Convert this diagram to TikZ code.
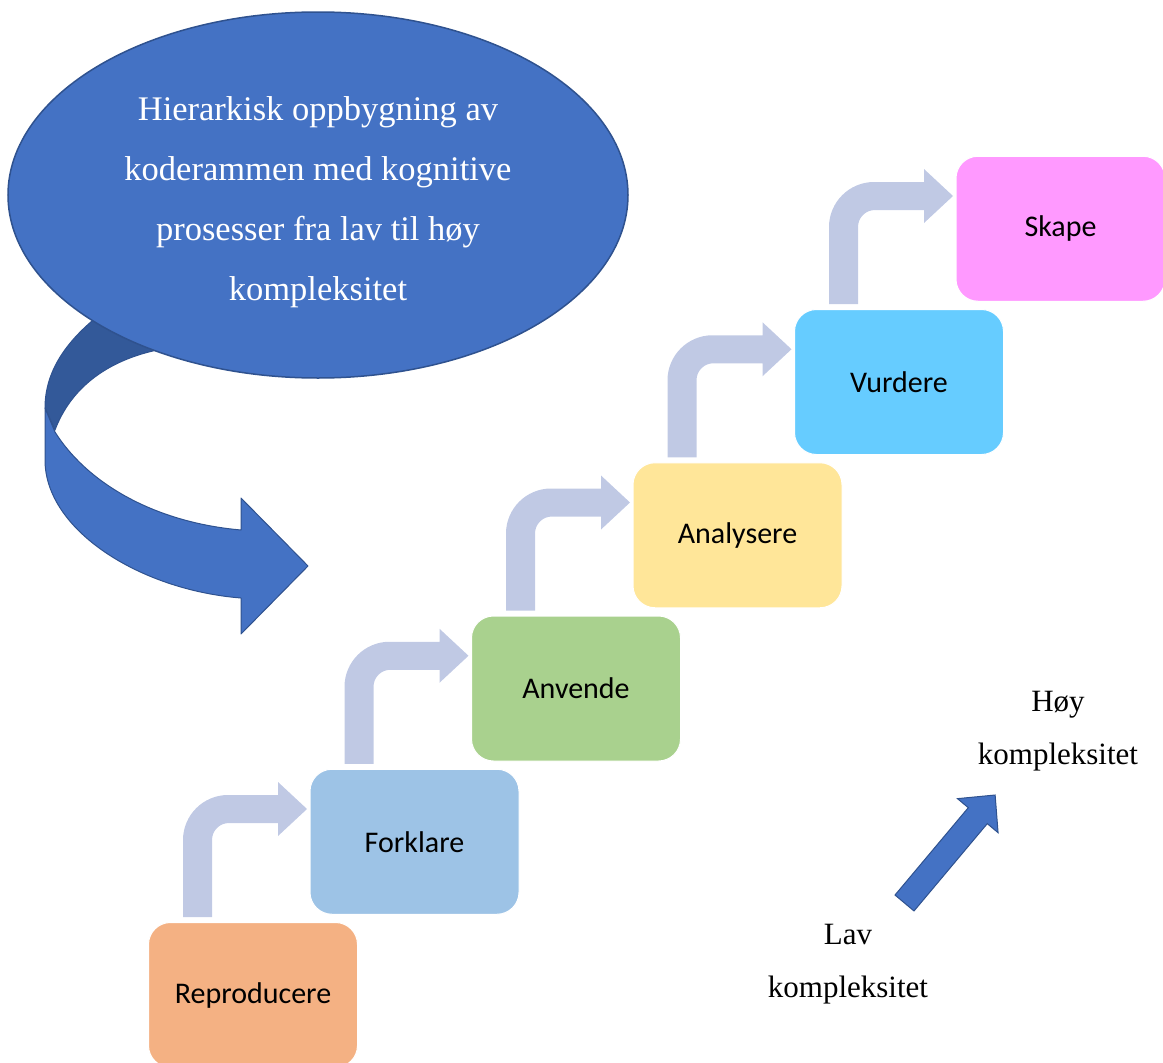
\documentclass[tikz,border=0pt]{standalone}
\usepackage{fontspec}
\setmainfont{Liberation Serif}
\newfontfamily\boxfont{Carlito}
\usetikzlibrary{shapes.geometric,calc}

\definecolor{accent}{RGB}{68,114,196}
\definecolor{accentdark}{RGB}{47,82,143}
\definecolor{ribbonback}{RGB}{51,89,153}
\definecolor{steparrow}{RGB}{192,201,228}
\definecolor{cRep}{RGB}{244,177,131}
\definecolor{cFor}{RGB}{157,195,230}
\definecolor{cAnv}{RGB}{169,209,142}
\definecolor{cAna}{RGB}{255,230,153}
\definecolor{cVur}{RGB}{102,204,255}
\definecolor{cSka}{RGB}{255,153,255}

\tikzset{
  levelbox/.style={rectangle, rounded corners=22pt, minimum width=209pt,
    minimum height=145pt, anchor=north west, draw=white, line width=1pt,
    font=\boxfont\fontsize{30}{36}\selectfont, text=black},
  serifnote/.style={align=center, font=\fontsize{31}{53}\selectfont, text=black},
  stepflow/.style={fill=steparrow}
}

% bent arrow rising out of one level and pointing at the next
\newcommand\bentstep[1]{%
  \begin{scope}[shift={($(#1.north west)+(35,-5)$)}]
    \fill[stepflow] (0,0) -- (0,-77) .. controls (0,-101.8) and (20.2,-122) .. (45,-122)
      -- (95,-122) -- (95,-135) -- (124,-108) -- (95,-81) -- (95,-94) -- (46,-94)
      .. controls (36.6,-94) and (29,-86.4) .. (29,-77) -- (29,0) -- cycle;
  \end{scope}}

\begin{document}
\begin{tikzpicture}[x=1pt,y=-1pt]
\useasboundingbox (0,0) rectangle (1163,1063);

% curled ribbon arrow below the callout: back face
\fill[ribbonback, draw=accentdark, line width=1pt, line join=round]
  (98,316) .. controls (62,345) and (45,375) .. (45,408)
  -- (55,430) .. controls (70,390) and (105,360) .. (162,349) -- cycle;
% front face with arrow head
\fill[accent, draw=accentdark, line width=1pt, line join=round]
  (45,408) -- (45,460) .. controls (45,530) and (140,590) .. (241,598)
  -- (241,634) -- (308,566) -- (241,498) -- (241,530)
  .. controls (150,522) and (85,480) .. (55,432) -- cycle;

% callout ellipse and its text
\node[ellipse, minimum width=620pt, minimum height=366pt, inner sep=0pt,
      fill=accent, draw=accentdark, line width=1.5pt] (callout) at (318,195) {};
\node[text=white, align=center, font=\fontsize{34.5}{60}\selectfont]
  (callouttext) at (318,202)
  {Hierarkisk oppbygning av\\koderammen med kognitive\\prosesser fra lav til høy\\kompleksitet};

% levels of the staircase
\node[levelbox, fill=cRep] (rep) at (148,922)      {Reproducere};
\node[levelbox, fill=cFor] (for) at (309.5,768.75) {Forklare};
\node[levelbox, fill=cAnv] (anv) at (471,615.5)    {Anvende};
\node[levelbox, fill=cAna] (ana) at (632.5,462.25) {Analysere};
\node[levelbox, fill=cVur] (vur) at (794,309)      {Vurdere};
\node[levelbox, fill=cSka] (ska) at (955.5,155.75) {Skape};

\bentstep{rep}
\bentstep{for}
\bentstep{anv}
\bentstep{ana}
\bentstep{vur}

% complexity direction
\node[serifnote] (low)  at (848,964)  {Lav\\kompleksitet};
\node[serifnote] (high) at (1058,731) {Høy\\kompleksitet};
\coordinate (tail) at (904.5,903);
\begin{scope}[shift={(tail)}, rotate=50]
  \fill[accent, draw=accentdark, line width=1pt, line join=miter]
    (0,-12.4) -- (114,-12.4) -- (114,-26.5) -- (141,0) -- (114,26.5)
    -- (114,12.4) -- (0,12.4) -- cycle;
\end{scope}
\end{tikzpicture}
\end{document}
